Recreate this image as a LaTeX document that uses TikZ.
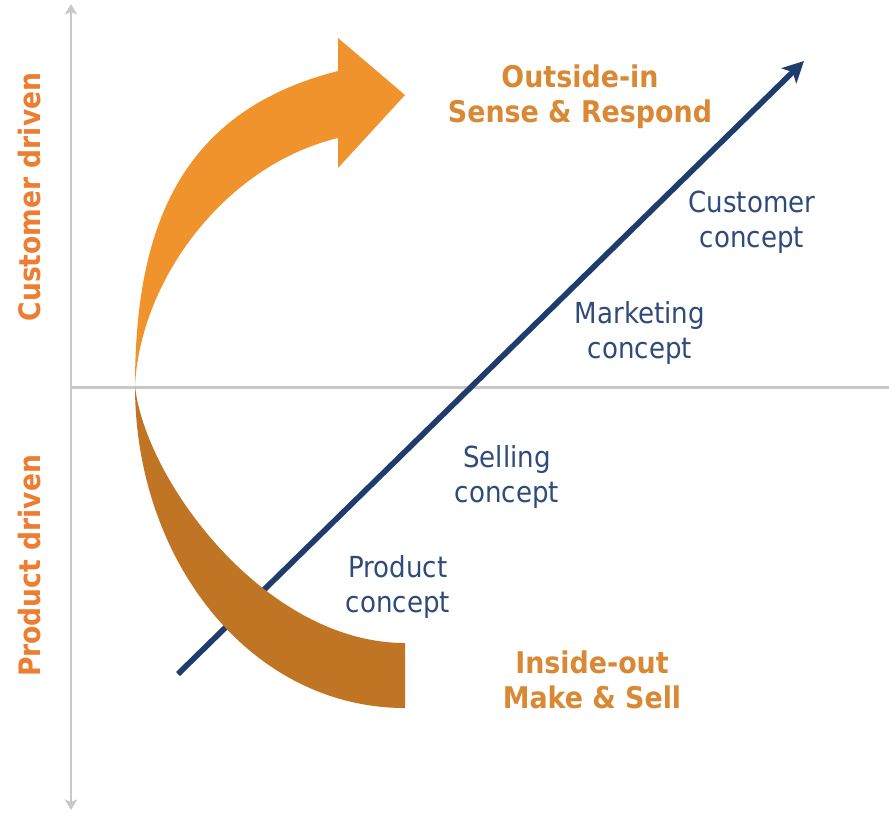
\documentclass[tikz,border=0pt]{standalone}
\usepackage{fontspec}
\setmainfont{DejaVu Sans}[FakeStretch=0.9]
\usetikzlibrary{arrows.meta}
\definecolor{axisgray}{RGB}{200,200,200}
\definecolor{arrowblue}{RGB}{31,61,108}
\definecolor{conceptblue}{RGB}{47,75,122}
\definecolor{driverorange}{RGB}{237,125,49}
\definecolor{modeorange}{RGB}{217,136,52}
\definecolor{upperorange}{RGB}{240,147,45}
\definecolor{lowerorange}{RGB}{192,117,37}
\begin{document}
\begin{tikzpicture}[x=0.02cm,y=-0.02cm]
	\tikzstyle{Concept} = [align=center, text=conceptblue, inner sep=0pt, font=\fontsize{16.5}{19.8}\selectfont]
	\tikzstyle{Driver} = [rotate=90, text=driverorange, inner sep=0pt, font=\fontsize{16.8}{20}\selectfont\bfseries]
	\tikzstyle{Mode} = [align=center, text=modeorange, inner sep=0pt, font=\fontsize{17}{19.8}\selectfont\bfseries]
	\tikzstyle{axis} = [line width=1.7pt, draw=axisgray, >={Stealth[length=6pt,width=7pt,inset=1.5pt]}]
	\tikzstyle{arrow} = [line width=3.2pt, draw=arrowblue, -{Stealth[length=12pt,width=12pt,inset=3pt]}]
	
	\fill [white] (0,0) rectangle (889,812);
	\useasboundingbox (0,0) rectangle (889,812);
	
	\coordinate (top) at (71,4);
	\coordinate (bottom) at (71,810);
	\coordinate (origin) at (71,387);
	\coordinate (right) at (889,387);
	\coordinate (start) at (178,674);
	\coordinate (end) at (804,61);
	
	\draw [axis, <->] (top) -- (bottom);
	\draw [axis] (origin) -- (right);
	\draw [arrow] (start) -- (end);
	
	% upper arrow
	\fill [upperorange] (135,386) .. controls (135,220) and (185,110) .. (338,71)
		-- (338,38) -- (405,95) -- (338,168) -- (338,138)
		.. controls (225,165) and (140,280) .. (135,386) -- cycle;
	% lower band
	\fill [lowerorange] (135,386) .. controls (135,560) and (250,708) .. (405,708)
		-- (405,643) .. controls (265,643) and (145,480) .. (135,386) -- cycle;
	
	\node (customer) [Driver] at (29,197) {Customer driven};
	\node (product) [Driver] at (29,566) {Product driven};
	\node (outside) [Mode] at (580,97) {Outside-in\\Sense \& Respond};
	\node (inside) [Mode] at (592,680) {Inside-out\\Make \& Sell};
	\node (cust) [Concept] at (752,222) {Customer\\concept};
	\node (mark) [Concept] at (640,333) {Marketing\\concept};
	\node (sell) [Concept] at (507,477) {Selling\\concept};
	\node (prod) [Concept] at (398,587) {Product\\concept};
\end{tikzpicture}
\end{document}
